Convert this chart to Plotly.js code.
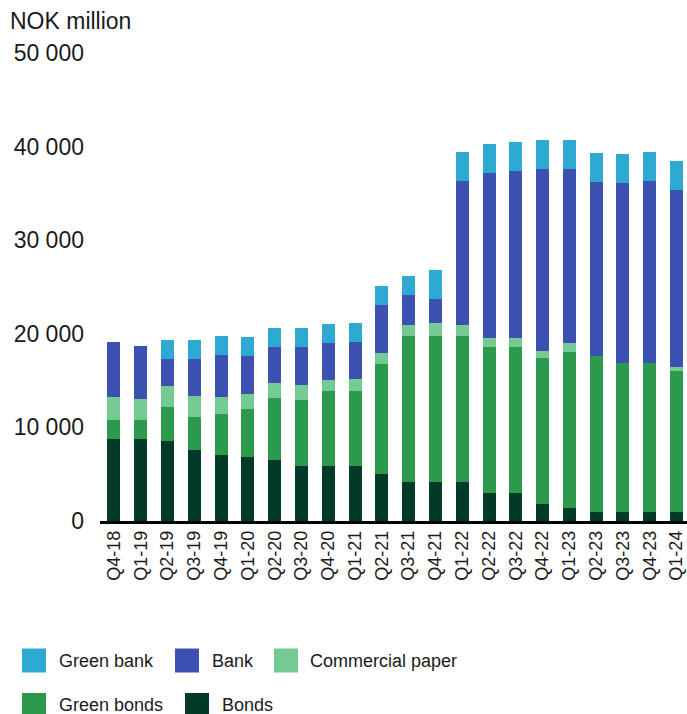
<!DOCTYPE html>
<html>
<head>
<meta charset="utf-8">
<script src="https://cdn.plot.ly/plotly-3.0.1.min.js"></script>
<style>html,body{margin:0;padding:0;background:#fff;}#chart{width:687px;height:714px;}</style>
</head>
<body>
<div id="chart"></div>
<script>
const categories = ["Q4-18","Q1-19","Q2-19","Q3-19","Q4-19","Q1-20","Q2-20","Q3-20","Q4-20","Q1-21","Q2-21","Q3-21","Q4-21","Q1-22","Q2-22","Q3-22","Q4-22","Q1-23","Q2-23","Q3-23","Q4-23","Q1-24"];
const bonds = [8770, 8770, 8560, 7590, 7060, 6840, 6520, 5880, 5880, 5880, 5030, 4170, 4170, 4170, 2990, 2990, 1820, 1390, 960, 960, 960, 960];
const greenBonds = [2030, 2030, 3630, 3530, 4380, 5140, 6630, 7060, 8020, 8020, 11760, 15620, 15620, 15620, 15620, 15620, 15610, 16680, 16690, 15940, 15940, 15080];
const commercialPaper = [2460, 2250, 2250, 2250, 1820, 1600, 1610, 1610, 1180, 1290, 1180, 1170, 1390, 1170, 960, 960, 750, 970, 0, 0, 0, 430];
const bank = [5880, 5670, 2890, 3960, 4490, 4070, 3850, 4060, 3960, 3950, 5130, 3210, 2560, 15400, 17650, 17860, 19470, 18610, 18610, 19250, 19460, 18930];
const greenBank = [0, 0, 2030, 2030, 2040, 2030, 2030, 2060, 2030, 2040, 2030, 2030, 3100, 3110, 3100, 3100, 3100, 3100, 3100, 3100, 3110, 3100];
const yTicks = [0, 10000, 20000, 30000, 40000, 50000];

const seriesNames = ["Bonds", "Green bonds", "Commercial paper", "Bank", "Green bank"];
const seriesData = [bonds, greenBonds, commercialPaper, bank, greenBank];
const colors = ["#013a27", "#2b9a4c", "#75ca92", "#3c51b1", "#2daad1"];

const font = "Liberation Sans, Arial, sans-serif";

const traces = seriesNames.map((n, i) => ({
  type: "bar", name: n, x: categories, y: seriesData[i],
  marker: {color: colors[i], line: {width: 0}}, width: 0.485, showlegend: false
}));

// Layout geometry (pixels)
const W = 687, H = 714, L = 100, R = 0, T = 53, B = 193;
const pw = W - L - R, ph = H - T - B;
const px = x => (x - L) / pw;
const py = y => (H - B - y) / ph;

// custom legend (order and positions as in reference)
const legendItems = [
  {name: "Green bank", sq: 22, tx: 57, cy: 660.5},
  {name: "Bank", sq: 175, tx: 210, cy: 660.5},
  {name: "Commercial paper", sq: 274, tx: 308, cy: 660.5},
  {name: "Green bonds", sq: 22, tx: 57, cy: 705},
  {name: "Bonds", sq: 185, tx: 220, cy: 705}
];
const shapes = [], annotations = [];
legendItems.forEach(it => {
  const c = colors[seriesNames.indexOf(it.name)];
  shapes.push({type: "rect", xref: "paper", yref: "paper",
    x0: px(it.sq), x1: px(it.sq + 24), y0: py(it.cy + 12), y1: py(it.cy - 12),
    fillcolor: c, line: {width: 0}});
  annotations.push({xref: "paper", yref: "paper", x: px(it.tx), y: py(it.cy),
    xanchor: "left", yanchor: "middle", showarrow: false, text: it.name,
    font: {family: font, size: 18, color: "#1a1a1a"}});
});

const layout = {
  width: W, height: H,
  margin: {l: L, r: R, t: T, b: B, pad: 0},
  barmode: "stack",
  paper_bgcolor: "#fff", plot_bgcolor: "#fff",
  separators: ". ",
  showlegend: false,
  title: {text: "NOK million", x: 10 / W, xanchor: "left", xref: "container",
    y: 1 - 21 / H, yanchor: "middle", yref: "container",
    font: {family: font, size: 23, color: "#1a1a1a"}},
  xaxis: {type: "category", range: [-0.52, 21.39], showline: true, linecolor: "#000", linewidth: 2.5,
    ticks: "", tickangle: -90, tickfont: {family: font, size: 18, color: "#1a1a1a"},
    showgrid: false, zeroline: false, fixedrange: true},
  yaxis: {range: [0, 50000], tickvals: yTicks, tickformat: ",d", showgrid: false, zeroline: false,
    showline: false, ticks: "", ticklabelstandoff: 15,
    tickfont: {family: font, size: 23, color: "#1a1a1a"}, fixedrange: true},
  shapes: shapes, annotations: annotations,
  font: {family: font}
};

Plotly.newPlot("chart", traces, layout, {displayModeBar: false, staticPlot: true});
</script>
</body>
</html>
